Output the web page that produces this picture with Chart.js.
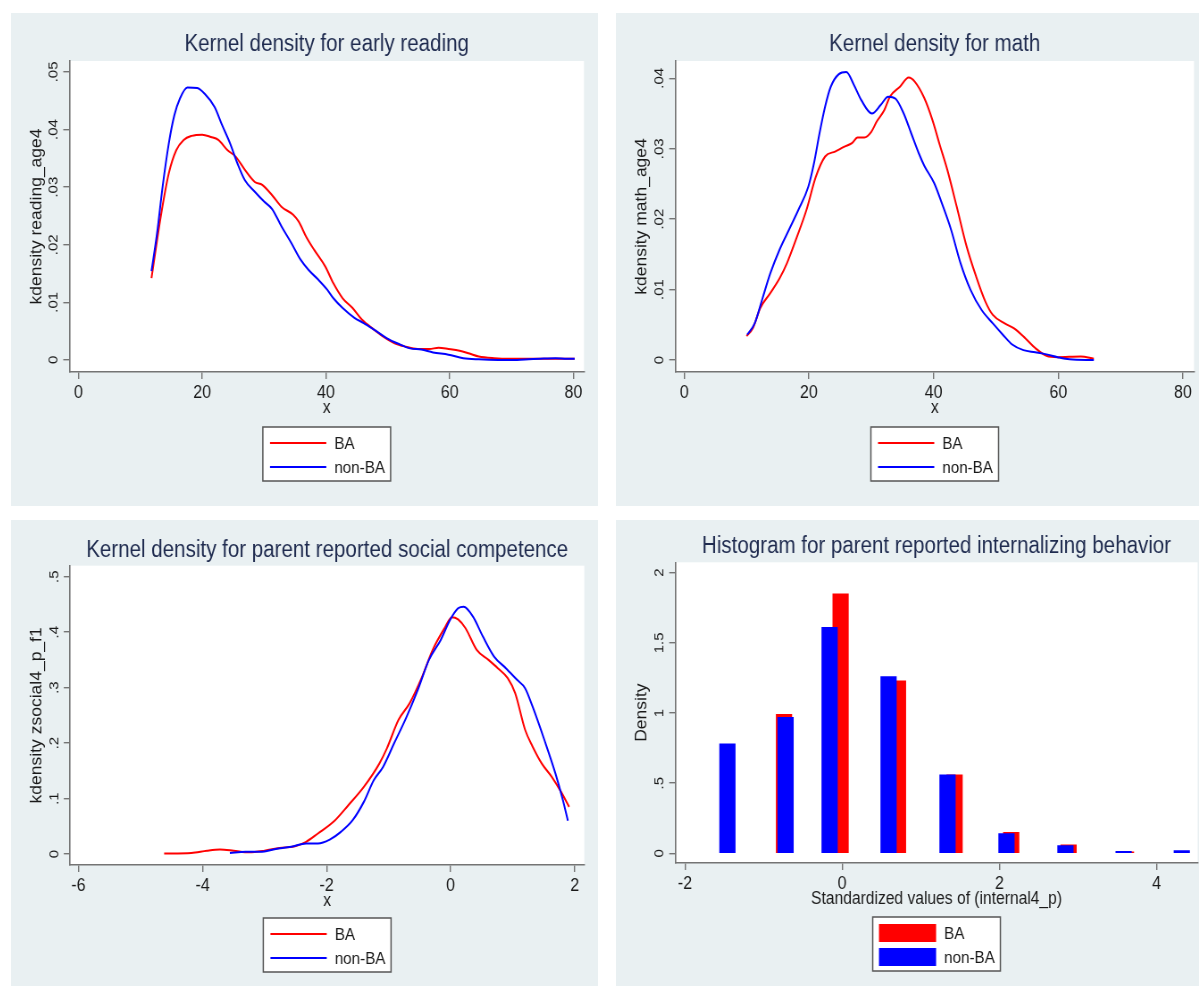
<!DOCTYPE html>
<html>
<head>
<meta charset="utf-8">
<title>Kernel densities and histogram, BA vs non-BA</title>
<script src="https://cdn.jsdelivr.net/npm/chart.js"></script>
<style>
  body { margin: 0; background: #fff; }
  canvas { position: absolute; background: #e9f0f2; }
</style>
</head>
<body>
<!-- canvases are drawn a bit wider and squeezed back, like the original export -->
<canvas id="c1" width="657" height="493" style="left:11px;top:13px;width:587px;height:493px"></canvas>
<canvas id="c2" width="653" height="493" style="left:616px;top:13px;width:583px;height:493px"></canvas>
<canvas id="c3" width="657" height="466" style="left:11px;top:520px;width:587px;height:466px"></canvas>
<canvas id="c4" width="653" height="466" style="left:616px;top:520px;width:583px;height:466px"></canvas>
<script>
// --- early reading ---
const readingX_BA = [11.8, 13.3, 14.6, 15.8, 17.0, 18.3, 20.0, 21.4, 22.6, 24.1, 25.4, 26.9, 28.5, 29.7, 31.3, 32.8, 34.7, 35.6, 36.8, 38.1, 39.9, 41.2, 42.7, 44.3, 45.8, 47.7, 49.2, 51.1, 52.9, 54.8, 56.7, 58.2, 59.8, 61.6, 63.2, 64.7, 67.2, 69.7, 72.8, 75.2, 77.7, 80.2];
const readingY_BA = [.0142, .0249, .0324, .0364, .0382, .0389, .0391, .0387, .0382, .0364, .0353, .0330, .0309, .0304, .0286, .0266, .0252, .0240, .0214, .0191, .0162, .0133, .0107, .0090, .0070, .0053, .0041, .0029, .0023, .0019, .0019, .0021, .0019, .0016, .0011, .0006, .0003, .0002, .0002, .0002, .0002, .0002];
const readingX_nonBA = [11.8, 12.7, 13.6, 14.6, 15.5, 16.4, 17.6, 19.2, 20.4, 22.0, 23.2, 24.5, 25.7, 26.9, 28.5, 30.0, 31.3, 32.8, 34.4, 35.9, 37.2, 38.7, 40.2, 41.2, 42.7, 44.6, 46.1, 47.7, 49.8, 51.7, 53.6, 55.4, 57.3, 59.8, 62.2, 64.7, 67.8, 70.9, 72.8, 74.6, 77.1, 79.0, 80.2];
const readingY_nonBA = [.0154, .0220, .0301, .0376, .0425, .0454, .0473, .0472, .0462, .0439, .0408, .0376, .0341, .0312, .0292, .0275, .0262, .0232, .0203, .0174, .0156, .0140, .0122, .0107, .0090, .0073, .0064, .0053, .0038, .0028, .0020, .0018, .0013, .0009, .0003, .0001, 0, 0, .0001, .0002, .0003, .0002, .0002];
const readingXTicks = [0, 20, 40, 60, 80];
const readingYTicks = [0, .01, .02, .03, .04, .05];
const readingYLabels = ['0', '.01', '.02', '.03', '.04', '.05'];

// --- math ---
const mathX_BA = [10.0, 11.0, 12.2, 13.8, 15.3, 16.5, 18.0, 19.6, 21.1, 22.6, 24.2, 25.7, 26.9, 27.8, 28.9, 30.0, 30.9, 32.1, 33.0, 34.6, 36.0, 37.0, 38.5, 39.8, 41.0, 42.2, 43.7, 45.3, 46.8, 48.3, 49.5, 51.4, 52.9, 54.7, 56.3, 58.1, 59.9, 63.6, 65.7];
const mathY_BA = [.0034, .0045, .0074, .0095, .0116, .0138, .0173, .0213, .0260, .0289, .0296, .0303, .0308, .0316, .0316, .0324, .0339, .0355, .0374, .0388, .0401, .0395, .0372, .0341, .0305, .0270, .0218, .0161, .0119, .0083, .0064, .0052, .0045, .0031, .0017, .0006, .0004, .0005, .0002];
const mathX_nonBA = [10.1, 11.3, 12.5, 13.8, 15.3, 16.8, 18.3, 19.9, 20.8, 21.7, 22.6, 23.5, 24.8, 26.0, 27.2, 28.4, 30.1, 31.5, 32.7, 33.9, 35.2, 36.4, 37.6, 38.5, 40.1, 41.3, 42.8, 44.3, 45.9, 47.7, 49.5, 51.1, 52.6, 54.4, 56.3, 58.1, 59.9, 61.8, 65.7];
const mathY_nonBA = [.0036, .0052, .0086, .0123, .0157, .0185, .0213, .0246, .0279, .0322, .0360, .0388, .0406, .0409, .0391, .0369, .0350, .0362, .0374, .0371, .0350, .0322, .0294, .0276, .0251, .0223, .0185, .0138, .0100, .0071, .0052, .0036, .0022, .0014, .0011, .0008, .0004, .0001, 0];
const mathXTicks = [0, 20, 40, 60, 80];
const mathYTicks = [0, .01, .02, .03, .04];
const mathYLabels = ['0', '.01', '.02', '.03', '.04'];

// --- parent reported social competence ---
const socialX_BA = [-4.62, -4.18, -3.93, -3.72, -3.50, -3.25, -3.00, -2.76, -2.51, -2.33, -2.14, -1.89, -1.65, -1.40, -1.15, -1.03, -0.84, -0.66, -0.47, -0.29, -0.10, 0.02, 0.12, 0.24, 0.42, 0.61, 0.76, 0.92, 1.04, 1.20, 1.32, 1.47, 1.63, 1.78, 1.91];
const socialY_BA = [.001, .002, .006, .008, .006, .003, .006, .011, .014, .022, .037, .058, .088, .121, .163, .190, .242, .272, .317, .368, .407, .427, .423, .407, .368, .350, .335, .317, .290, .224, .194, .163, .139, .112, .085];
const socialX_nonBA = [-3.56, -3.31, -3.07, -2.82, -2.57, -2.33, -2.14, -1.95, -1.77, -1.58, -1.40, -1.24, -1.09, -0.91, -0.72, -0.53, -0.35, -0.16, -0.01, 0.12, 0.21, 0.36, 0.52, 0.70, 0.89, 1.07, 1.20, 1.32, 1.51, 1.69, 1.81, 1.89];
const socialY_nonBA = [.002, .004, .004, .009, .013, .019, .019, .026, .040, .061, .094, .133, .157, .200, .245, .296, .350, .386, .422, .443, .446, .428, .392, .356, .335, .314, .299, .266, .206, .145, .097, .060];
const socialXTicks = [-6, -4, -2, 0, 2];
const socialYTicks = [0, .1, .2, .3, .4, .5];
const socialYLabels = ['0', '.1', '.2', '.3', '.4', '.5'];

// --- histogram, parent reported internalizing behavior ---
const histX_BA = [-0.74, -0.02, 0.71, 1.43, 2.15, 2.88, 3.61];
const histY_BA = [0.99, 1.85, 1.23, 0.56, 0.15, 0.06, 0.01];
const histX_nonBA = [-1.46, -0.72, -0.16, 0.59, 1.34, 2.09, 2.84, 3.58, 4.32];
const histY_nonBA = [0.78, 0.97, 1.61, 1.26, 0.56, 0.14, 0.055, 0.014, 0.019];
const histXTicks = [-2, 0, 2, 4];
const histYTicks = [0, .5, 1, 1.5, 2];
const histYLabels = ['0', '.5', '1', '1.5', '2'];

const FONT = '"Liberation Sans", Arial, sans-serif';
const RED = '#ff0000';
const BLUE = '#0000ff';
const AXIS = '#747474';
const INK = '#1a1a1a';

const pts = (xs, ys) => xs.map((x, i) => ({ x: x, y: ys[i] }));

// white plot region, like Stata's plotregion
const plotBg = {
    id: 'plotBg',
    beforeDraw(chart) {
        const { ctx, chartArea: a } = chart;
        ctx.save();
        ctx.fillStyle = '#fff';
        ctx.fillRect(a.left, a.top, a.right - a.left, a.bottom - a.top);
        ctx.restore();
    }
};

// boxed legend under the x title, two rows
const boxLegend = {
    id: 'boxLegend',
    afterDraw(chart, args, opts) {
        const { ctx, chartArea: a } = chart;
        const w = 143, h = 54;
        const left = (a.left + a.right) / 2 - w / 2;
        const top = a.bottom + opts.gap;
        ctx.save();
        ctx.fillStyle = '#fff';
        ctx.fillRect(left, top, w, h);
        ctx.strokeStyle = '#555';
        ctx.lineWidth = 1.5;
        ctx.strokeRect(left, top, w, h);
        ctx.font = '17px ' + FONT;
        ctx.textBaseline = 'middle';
        chart.data.datasets.forEach((ds, i) => {
            const y = top + 16 + i * 24;
            if (opts.boxes) {
                ctx.fillStyle = ds.backgroundColor;
                ctx.fillRect(left + 7, y - 9, 64, 18);
            } else {
                ctx.strokeStyle = ds.borderColor;
                ctx.lineWidth = 2;
                ctx.beginPath();
                ctx.moveTo(left + 8, y);
                ctx.lineTo(left + 71, y);
                ctx.stroke();
            }
            ctx.fillStyle = INK;
            ctx.fillText(ds.label, left + 80, y + 1);
        });
        ctx.restore();
    }
};

function axisOpts(o, horizontal) {
    return {
        type: 'linear',
        bounds: 'data',
        offset: false,
        min: o.min,
        max: o.max,
        afterBuildTicks: s => { s.ticks = o.ticks.map(v => ({ value: v })); },
        afterFit: s => { if (horizontal) s.height = 47; else s.width = o.width; },
        border: { display: true, color: AXIS, width: 1.6 },
        grid: { display: true, offset: false, drawOnChartArea: false, drawTicks: true, tickLength: 7, color: AXIS, lineWidth: 1.4 },
        ticks: {
            callback: (v, i) => o.labels ? o.labels[i] : String(o.ticks[i]),
            font: { family: FONT, size: horizontal ? 18 : 15 },
            color: INK,
            padding: horizontal ? 3 : o.pad,
            minRotation: horizontal ? 0 : 90,
            maxRotation: horizontal ? 0 : 90,
            crossAlign: horizontal ? 'near' : 'center'
        },
        title: {
            display: true,
            text: o.title,
            font: { family: FONT, size: 17.5 },
            color: INK,
            padding: horizontal ? { top: 0, bottom: 0 } : { top: 19, bottom: 0 }
        }
    };
}

function lineSets(xBA, yBA, xNon, yNon) {
    return [
        { label: 'BA', data: pts(xBA, yBA), borderColor: RED, order: 2 },
        { label: 'non-BA', data: pts(xNon, yNon), borderColor: BLUE, order: 1 }
    ].map(d => Object.assign(d, { borderWidth: 2, pointRadius: 0, tension: 0.4, cubicInterpolationMode: 'monotone', fill: false }));
}

function makePanel(id, p) {
    return new Chart(document.getElementById(id), {
        type: p.type,
        data: { datasets: p.datasets },
        options: {
            responsive: false,
            animation: false,
            events: [],
            layout: { padding: { left: 0, top: 0, right: p.padRight, bottom: p.padBottom } },
            plugins: {
                legend: { display: false },
                tooltip: { enabled: false },
                title: {
                    display: true,
                    text: p.title,
                    fullSize: false,
                    color: '#1f2b4f',
                    font: { family: FONT, size: 23, weight: 'normal' },
                    padding: p.titlePad
                },
                boxLegend: { gap: p.legendGap, boxes: p.type === 'bar' }
            },
            scales: {
                x: axisOpts(p.x, true),
                y: axisOpts(p.y, false)
            }
        },
        plugins: [plotBg, boxLegend]
    });
}

makePanel('c1', {
    type: 'line',
    title: 'Kernel density for early reading',
    datasets: lineSets(readingX_BA, readingY_BA, readingX_nonBA, readingY_nonBA),
    x: { min: -1.45, max: 81.7, ticks: readingXTicks, title: 'x' },
    y: { min: -0.0021, max: 0.0519, ticks: readingYTicks, labels: readingYLabels, title: 'kdensity reading_age4', width: 65.5, pad: 0.2 },
    titlePad: { top: 17.5, bottom: 2.9 }, padRight: 15.7, padBottom: 87, legendGap: 55
});

makePanel('c2', {
    type: 'line',
    title: 'Kernel density for math',
    datasets: lineSets(mathX_BA, mathY_BA, mathX_nonBA, mathY_nonBA),
    x: { min: -1.41, max: 81.76, ticks: mathXTicks, title: 'x' },
    y: { min: -0.0017, max: 0.04246, ticks: mathYTicks, labels: mathYLabels, title: 'kdensity math_age4', width: 66.6, pad: 0.2 },
    titlePad: { top: 17.5, bottom: 2.9 }, padRight: 5.6, padBottom: 87, legendGap: 55
});

makePanel('c3', {
    type: 'line',
    title: 'Kernel density for parent reported social competence',
    datasets: lineSets(socialX_BA, socialY_BA, socialX_nonBA, socialY_nonBA),
    x: { min: -6.137, max: 2.155, ticks: socialXTicks, title: 'x' },
    y: { min: -0.0198, max: 0.5198, ticks: socialYTicks, labels: socialYLabels, title: 'kdensity zsocial4_p_f1', width: 66.1, pad: 4 },
    titlePad: { top: 17, bottom: 1.1 }, padRight: 15.3, padBottom: 74, legendGap: 53
});

makePanel('c4', {
    type: 'bar',
    title: 'Histogram for parent reported internalizing behavior',
    datasets: [
        { label: 'BA', data: pts(histX_BA, histY_BA), backgroundColor: RED, order: 2 },
        { label: 'non-BA', data: pts(histX_nonBA, histY_nonBA), backgroundColor: BLUE, order: 1 }
    ].map(d => Object.assign(d, { grouped: false, barThickness: 17.5, borderWidth: 0 })),
    x: { min: -2.121, max: 4.522, ticks: histXTicks, title: 'Standardized values of (internal4_p)' },
    y: { min: -0.069, max: 2.074, ticks: histYTicks, labels: histYLabels, title: 'Density', width: 66.6, pad: 0.2 },
    titlePad: { top: 12.5, bottom: 2.2 }, padRight: 1.5, padBottom: 76, legendGap: 54
});
</script>
</body>
</html>
